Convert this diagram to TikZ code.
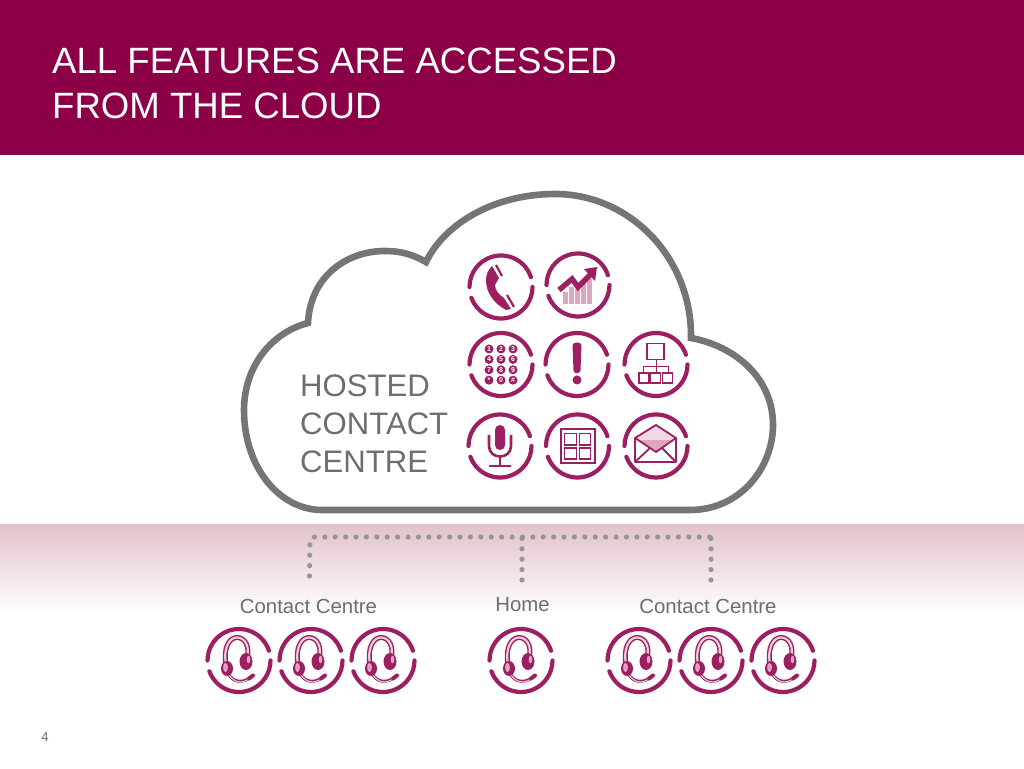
\documentclass[tikz,border=0pt]{standalone}
\usepackage{fontspec}
\setmainfont{Liberation Sans}
\usetikzlibrary{calc}
\definecolor{plum}{HTML}{8B0046}
\definecolor{berry}{HTML}{9C1F62}
\definecolor{pale}{HTML}{DDA6BE}
\definecolor{blush}{HTML}{E2C3CA}
\definecolor{cloudgrey}{HTML}{757575}
\definecolor{dotgrey}{HTML}{969696}
\definecolor{textgrey}{HTML}{6E6E6E}

\begin{document}
\begin{tikzpicture}[x=1pt, y=1pt,
  ringline/.style={draw=berry, line width=4.2pt, line cap=round},
  thinline/.style={draw=berry, line width=1.8pt},
  dots/.style={draw=dotgrey, line width=5.2pt, line cap=round, dash pattern=on 0pt off 10.4pt, rounded corners=4pt},
  lab/.style={font=\fontsize{20.4}{24}\selectfont, text=textgrey, inner sep=0}]
\useasboundingbox (0,0) rectangle (1024,768);
\newcommand{\ringat}[3]{% x, y, radius
  \draw[ringline] (#1,#2) ++(18:#3) arc (18:180:#3);
  \draw[ringline] (#1,#2) ++(200:#3) arc (200:360:#3);}
\newcommand{\headset}[2]{% x, y
  \ringat{#1}{#2}{31.5}
  \begin{scope}[shift={(#1,#2)}, yscale=-1]
    \draw[berry, line width=5pt] (-13,4) .. controls (-16,-12) and (-10,-23) .. (-2,-23) .. controls (6,-23) and (11,-14) .. (8,-3);
    \draw[pale!60, line width=2.2pt] (-13,4) .. controls (-16,-12) and (-10,-23) .. (-2,-23) .. controls (6,-23) and (11,-14) .. (8,-3);
    \draw[berry, line width=3pt] (-11,13) .. controls (-6,22) and (4,24) .. (14,15);
    \draw[pale!50, line width=1pt] (-11,13) .. controls (-6,22) and (4,24) .. (10,18);
    \draw[berry, line width=4pt, line cap=round] (10,18) -- (14,15);
    \fill[berry] (-12,8) ellipse (6 and 7.5);
    \fill[pale] (-13.5,7) ellipse (2.4 and 4.6);
    \fill[berry] (7,1) ellipse (6.5 and 8.5);
    \fill[pale] (9.5,-1) ellipse (1.8 and 3.8);
  \end{scope}}

% header and band
\fill[plum] (0,613) rectangle (1024,768);
\shade[top color=blush, bottom color=white] (0,153) rectangle (1024,243);
\node[anchor=north west, align=left, text=white, inner sep=0, font=\fontsize{36.6}{45}\selectfont] (title) at (52,720) {ALL FEATURES ARE ACCESSED\\FROM THE CLOUD};
\node[font=\fontsize{13}{15}\selectfont, text=textgrey, inner sep=0] (pageno) at (45,31) {4};

% cloud
\draw[cloudgrey, line width=6.6pt, fill=white, line join=miter]
  (322,258) -- (690,258) .. controls (740,258) and (773,300) .. (773,343)
  .. controls (773,390) and (735,422) .. (691,430)
  .. controls (692,510) and (630,574) .. (555,574)
  .. controls (495,574) and (445,545) .. (426,506)
  .. controls (412,514) and (400,517) .. (385,517)
  .. controls (345,517) and (310,490) .. (308,445)
  .. controls (270,435) and (244,400) .. (244,358)
  .. controls (244,300) and (280,258) .. (322,258) -- cycle;
\node[anchor=north west, align=left, text=textgrey, inner sep=0, font=\fontsize{31.1}{38}\selectfont] (hosted) at (300,393) {HOSTED\\CONTACT\\CENTRE};

% feature icons
\foreach \x/\y in {501/481, 578/483, 501/403.5, 577/403.5, 656/403.5, 500/322, 577.5/322, 656/322} {
  \ringat{\x}{\y}{31.5}
}
\begin{scope}[shift={(501,481)}, yscale=-1]% phone
  \fill[berry] (-9,-21) -- (-2,-9) -- (-6,-2) .. controls (-6,3) and (-2,8) .. (3,11) -- (10,22) -- (5,23) .. controls (-8,16) and (-15,5) .. (-15,-7) .. controls (-15,-12) and (-13,-17) .. (-9,-21) -- cycle;
  \draw[berry, line width=2.2pt] (-5,-22) -- (1,-11) (6,8) -- (13,20);
\end{scope}
\begin{scope}[shift={(578,483)}, yscale=-1]% chart
  \foreach \l/\t in {-15/7, -9/2, -3/4, 3/-3, 9/-6} {
    \fill[pale] (\l,19) rectangle (\l+5.2,\t);
  }
  \draw[berry, line width=5.4pt] (-19,5) -- (-6,-6) -- (0,2) -- (13,-11);
  \fill[berry] (6,-16) -- (19,-18) -- (17,-4) -- cycle;
\end{scope}
\begin{scope}[shift={(501,403.5)}, yscale=-1]% keypad
  \foreach \d [count=\i from 0] in {1,2,3,4,5,6,7,8,9,*,0,\#} {
    \pgfmathsetmacro{\kx}{-12+12*mod(\i,3)}
    \pgfmathsetmacro{\ky}{-15.5+10.4*floor(\i/3)}
    \node[circle, fill=berry, text=white, inner sep=0, minimum size=9pt, font=\fontsize{7}{7}\selectfont\bfseries] (key\i) at (\kx,\ky) {\d};
  }
\end{scope}
\begin{scope}[shift={(577,403.5)}, yscale=-1]% alert
  \fill[berry] (-4.5,-19) .. controls (-4.5,-23) and (4.5,-23) .. (4.5,-19) -- (3.5,6) .. controls (3.5,9.5) and (-3.5,9.5) .. (-3.5,6) -- cycle;
  \fill[berry] (0,15.5) circle (4.5);
\end{scope}
\begin{scope}[shift={(656,403.5)}, yscale=-1]% org chart
  \draw[thinline] (-9,-21) rectangle (8,-5);
  \draw[berry, line width=1pt] (0,-5) -- (0,8) (-12.5,8) -- (-12.5,2.5) -- (12,2.5) -- (12,8);
  \foreach \l in {-17,-5.5,6.5} {
    \draw[berry, line width=1.3pt] (\l,8.5) rectangle (\l+10,18.5);
  }
\end{scope}
\begin{scope}[shift={(500,322)}, yscale=-1]% microphone
  \fill[berry, rounded corners=4.9pt] (-5,-21) rectangle (5,4);
  \draw[berry, line width=2.6pt] (-11,-11) -- (-11,0) .. controls (-11,14) and (11,14) .. (11,0) -- (11,-11);
  \draw[berry, line width=2.4pt] (0,11) -- (0,20) (-11,20) -- (11,20);
\end{scope}
\begin{scope}[shift={(577.5,322)}, yscale=-1]% window grid
  \draw[thinline, line width=2pt] (-17,-17) rectangle (17,17);
  \draw[berry, line width=1.3pt] (-13,-12.5) rectangle (-1,-1) (2,-12.5) rectangle (13,-1) (-13,2) rectangle (-1,13) (2,2) rectangle (13,13);
\end{scope}
\begin{scope}[shift={(656,322)}, yscale=-1]% envelope
  \fill[pale] (-21,-8) -- (0,-21) -- (20,-8) -- (0,6) -- cycle;
  \fill[pale!45] (-21,-8) -- (0,-21) -- (20,-8) -- (17,-6) -- (-18,-6) -- cycle;
  \draw[thinline, line join=round] (-21,-8) -- (0,-21) -- (20,-8) -- (20,16) -- (-21,16) -- cycle;
  \draw[thinline] (-21,-8) -- (0,6) -- (20,-8) (-21,16) -- (-6,2) (20,16) -- (6,2);
\end{scope}

% connectors
\coordinate (busl) at (310,231);
\coordinate (busm) at (522,231);
\coordinate (busr) at (711,231);
\coordinate (dropl) at (309.5,192);
\coordinate (dropm) at (522,188);
\coordinate (dropr) at (711,188);
\draw[dots] (dropl) -- (busl) -- (busr);
\draw[dots] (dropm) -- (busm);
\draw[dots] (dropr) -- (busr);

% sites
\node[lab] (sitea) at (308.5,162) {Contact Centre};
\node[lab] (siteb) at (522.5,163) {Home};
\node[lab] (sitec) at (708,162) {Contact Centre};
\foreach \x in {239,311,383,521,639,711,783} {
  \headset{\x}{107.5}
}
\end{tikzpicture}
\end{document}
